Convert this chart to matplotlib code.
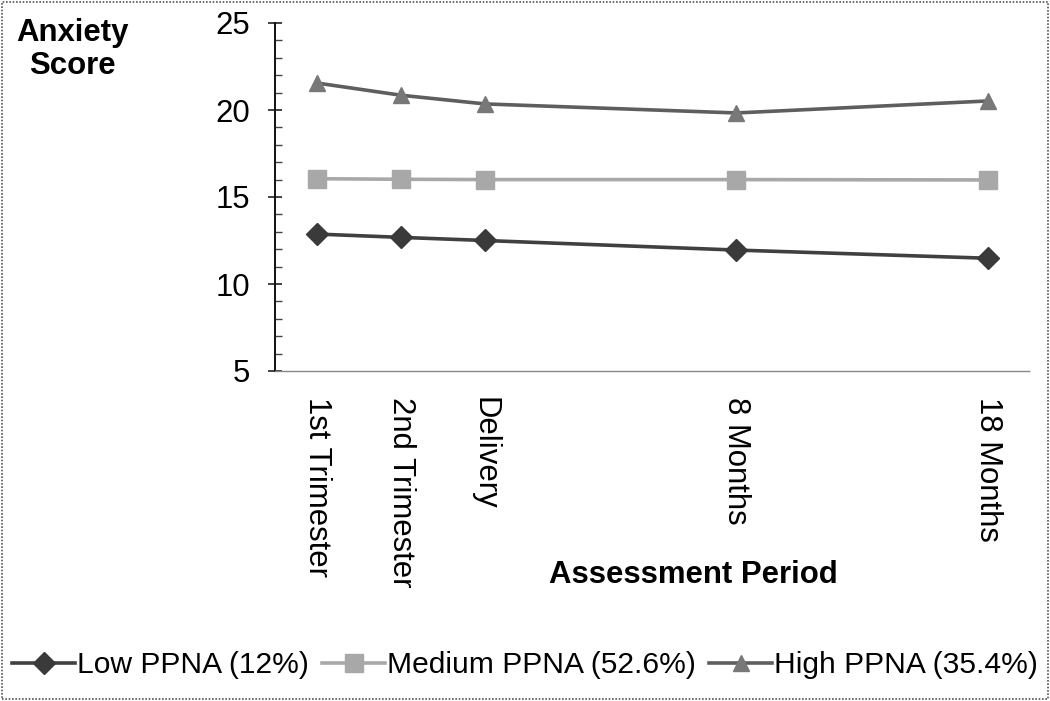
import matplotlib
matplotlib.use("Agg")
import matplotlib.pyplot as plt
from matplotlib.patches import Rectangle

# ---- data ----
periods = ["1st Trimester", "2nd Trimester", "Delivery", "8 Months", "18 Months"]
period_pos = [0, 1, 2, 5, 8]
low_ppna = [12.87, 12.68, 12.50, 11.95, 11.48]
medium_ppna = [16.05, 16.02, 16.00, 16.00, 15.98]
high_ppna = [21.55, 20.85, 20.35, 19.83, 20.52]
series_labels = ["Low PPNA (12%)", "Medium PPNA (52.6%)", "High PPNA (35.4%)"]
y_ticks = [5, 10, 15, 20, 25]

plt.rcParams['font.family'] = ['Liberation Sans', 'DejaVu Sans']
FS = 22.4
LFS = 21.6

fig = plt.figure(figsize=(10.5, 7.01), dpi=100)
ax = fig.add_axes([275/1050, 1-371/701, (1030-275)/1050, (371-23)/701])

ax.plot(period_pos, low_ppna, color='#404040', lw=2.6, marker='D', ms=11,
        mfc='#3a3a3a', mec='#3a3a3a', label=series_labels[0], zorder=3)
ax.plot(period_pos, medium_ppna, color='#a8a8a8', lw=2.6, marker='s', ms=12.5,
        mfc='#a8a8a8', mec='#a8a8a8', label=series_labels[1], zorder=3)
ax.plot(period_pos, high_ppna, color='#5e5e5e', lw=2.6, marker='^', ms=11,
        mfc='#787878', mec='#787878', label=series_labels[2], zorder=3)

ax.set_xlim(-0.5, 8.5)
ax.set_ylim(5, 25)
ax.set_yticks(y_ticks)
ax.set_yticks(range(5, 26), minor=True)
ax.set_xticks(period_pos)
ax.set_xticklabels(periods, rotation=270, fontsize=FS, va='top', ha='center')
ax.tick_params(axis='x', length=0, pad=19)
ax.tick_params(axis='y', which='major', direction='inout', length=10, width=1.2,
               labelsize=FS, pad=13, color='#222222')
ax.tick_params(axis='y', which='minor', direction='in', length=5, width=1.0,
               color='#444444')

for s in ['top', 'right']:
    ax.spines[s].set_visible(False)
ax.spines['left'].set_color('#111111')
ax.spines['left'].set_linewidth(1.4)
ax.spines['bottom'].set_color('#888888')
ax.spines['bottom'].set_linewidth(1.0)
ax.spines['bottom'].set_linestyle((0, (1, 1)))

fig.text(72/1050, 1-49.5/701, "Anxiety\nScore", ha='center', va='center',
         fontsize=FS, fontweight='bold', linespacing=1.1)
fig.text(693/1050, 1-575/701, "Assessment Period", ha='center', va='center',
         fontsize=FS, fontweight='bold')

fig.legend(loc='center', bbox_to_anchor=(0.5, 1-665/701), ncol=3, frameon=False,
           fontsize=LFS, handlelength=2.1, handletextpad=0.05, columnspacing=0.45,
           borderaxespad=0)

fig.patches.append(Rectangle((0.002, 0.003), 0.996, 0.994, transform=fig.transFigure,
                             fill=False, edgecolor='#555555', lw=1.2,
                             linestyle=(0, (1, 1))))

fig.savefig("out.png", dpi=100)
